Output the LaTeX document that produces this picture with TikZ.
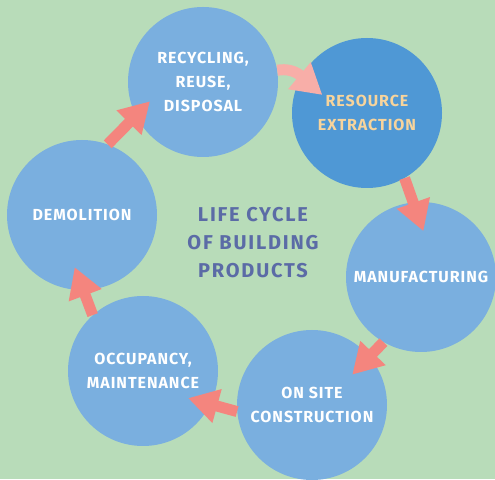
\documentclass[tikz,border=0pt]{standalone}
\usepackage{fontspec}
\newfontfamily\labelfont{Fira Sans}[LetterSpace=6]
\newfontfamily\titlefont{Fira Sans}[LetterSpace=9]
\usetikzlibrary{arrows.meta,calc}

\definecolor{bggreen}{HTML}{B8DCB9}
\definecolor{stageblue}{HTML}{7AAFDF}
\definecolor{sourceblue}{HTML}{4F98D5}
\definecolor{sourcetext}{HTML}{F7D49C}
\definecolor{flowred}{HTML}{F4857E}
\definecolor{flowpink}{HTML}{F8AEA8}
\definecolor{titleblue}{HTML}{5B6BA6}

\tikzset{
  stage/.style={circle, fill=stageblue, minimum size=150pt, inner sep=0pt,
    text=white, align=center, font=\labelfont\bfseries\fontsize{16}{24}\selectfont},
  title/.style={text=titleblue, align=center,
    font=\titlefont\bfseries\fontsize{20}{28}\selectfont},
  flow/.style={draw=flowred, line width=11pt, -{Triangle[width=33pt,length=30pt]}}
}

\begin{document}
\begin{tikzpicture}[x=1pt,y=1pt]
  \fill[bggreen] (0,0) rectangle (495,479);
  \useasboundingbox (0,0) rectangle (495,479);
  % stages of the cycle
  \node[stage] (rec) at (203,397) {RECYCLING,\\REUSE,\\DISPOSAL};
  \node[stage, fill=sourceblue, text=sourcetext] (res) at (367,366) {RESOURCE\\EXTRACTION};
  \node[stage] (man) at (421,202) {MANUFACTURING};
  \node[stage] (site) at (312,74) {ON SITE\\CONSTRUCTION};
  \node[stage] (occ) at (143,108) {OCCUPANCY,\\MAINTENANCE};
  \node[stage] (dem) at (82,264) {DEMOLITION};
  \node[title] (life) at (253,236) {LIFE CYCLE\\OF BUILDING\\PRODUCTS};
  % arrows
  \draw[flow, draw=flowpink] (rec.9) to[out=10, in=140] ($(res.center)!0.64!(res.158)$);
  \draw[flow] (res.-60) -- ($(man.center)!0.61!(man.87)$);
  \draw[flow] (man.-120) -- ($(site.center)!0.67!(site.37)$);
  \draw[flow] (site.185) -- ($(occ.center)!0.70!(occ.-31)$);
  \draw[flow] (occ.132) -- ($(dem.center)!0.70!(dem.262)$);
  \draw[flow] (dem.70) -- ($(rec.center)!0.75!(rec.200)$);
\end{tikzpicture}
\end{document}
